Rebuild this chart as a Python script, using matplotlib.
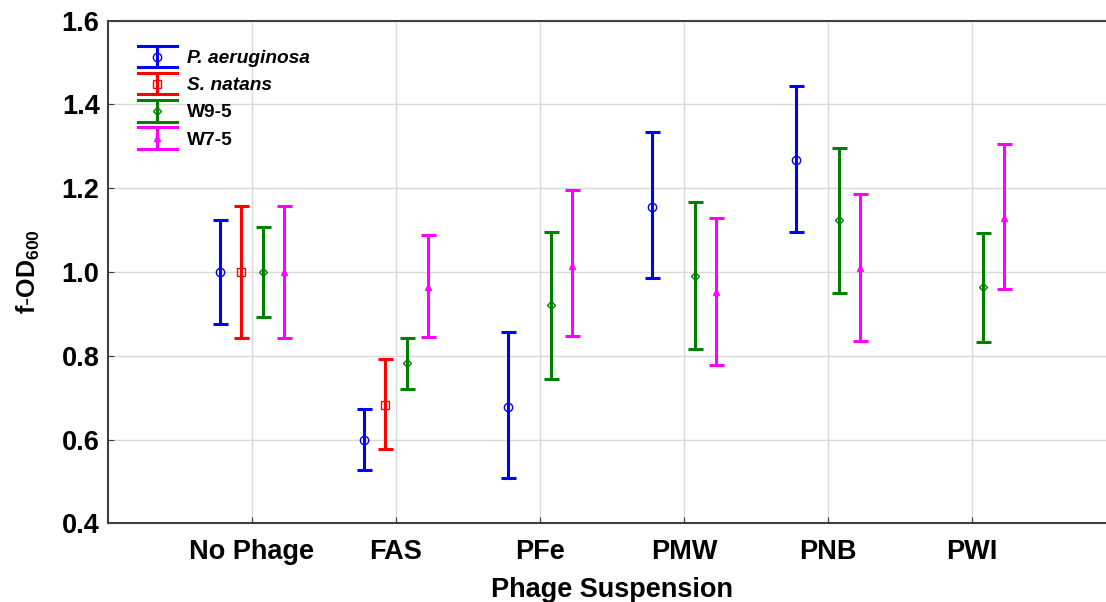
import numpy as np
import matplotlib
matplotlib.use("Agg")
import matplotlib.pyplot as plt
from matplotlib.lines import Line2D
from matplotlib.legend_handler import HandlerBase

plt.rcParams['font.family'] = ['Liberation Sans', 'DejaVu Sans']
plt.rcParams['mathtext.fontset'] = 'custom'
plt.rcParams['mathtext.rm'] = 'Liberation Sans'
plt.rcParams['mathtext.bf'] = 'Liberation Sans:bold'

# Kategori suspensi fag
categories = ["No Phage", "FAS", "PFe", "PMW", "PNB", "PWI"]

# Rata-rata f-OD600 dan batas bawah/atas tiap strain (None = tidak diukur)
pa_mean = [1.000, 0.599, 0.678, 1.156, 1.267, None]
pa_low = [0.876, 0.527, 0.507, 0.985, 1.095, None]
pa_high = [1.123, 0.672, 0.856, 1.333, 1.444, None]

sn_mean = [1.000, 0.682, None, None, None, None]
sn_low = [0.842, 0.577, None, None, None, None]
sn_high = [1.158, 0.792, None, None, None, None]

w95_mean = [1.000, 0.782, 0.922, 0.991, 1.123, 0.963]
w95_low = [0.892, 0.721, 0.745, 0.816, 0.950, 0.834]
w95_high = [1.108, 0.843, 1.095, 1.166, 1.297, 1.092]

w75_mean = [1.000, 0.965, 1.015, 0.953, 1.010, 1.129]
w75_low = [0.842, 0.845, 0.846, 0.778, 0.836, 0.959]
w75_high = [1.158, 1.089, 1.195, 1.128, 1.185, 1.305]

series = [
    ("P. aeruginosa", pa_mean, pa_low, pa_high, "#0000ff", "o", "italic"),
    ("S. natans", sn_mean, sn_low, sn_high, "#ff0000", "s", "italic"),
    ("W9-5", w95_mean, w95_low, w95_high, "#008000", "D", "normal"),
    ("W7-5", w75_mean, w75_low, w75_high, "#ff00ff", "^", "normal"),
]
offsets = [-0.225, -0.075, 0.075, 0.225]
msize = {"o": 6, "s": 6, "D": 4, "^": 5}


class ErrorbarHandle(HandlerBase):
    """Legenda berupa batang galat vertikal dengan tutup lebar."""

    def __init__(self, color, marker):
        super().__init__()
        self.color = color
        self.marker = marker

    def create_artists(self, legend, orig_handle, xdescent, ydescent,
                       width, height, fontsize, trans):
        cx = width / 2 - xdescent
        y0 = -ydescent - 0.12 * height
        y1 = -ydescent + 1.12 * height
        ym = (y0 + y1) / 2
        arts = [
            Line2D([cx, cx], [y0, y1], color=self.color, lw=2.2),
            Line2D([0, width], [y0, y0], color=self.color, lw=2.2),
            Line2D([0, width], [y1, y1], color=self.color, lw=2.2),
            Line2D([cx], [ym], marker=self.marker, color=self.color,
                   mfc="none", ms=msize[self.marker], mew=1, ls="none"),
        ]
        for a in arts:
            a.set_transform(trans)
        return arts


fig = plt.figure(figsize=(11.06, 6.02), dpi=100)
ax = fig.add_axes([0.0976, 0.1307, 0.9114, 0.835])

x = np.arange(1, len(categories) + 1)
proxies = []
handler_map = {}
for (name, mean, low, high, color, marker, style), off in zip(series, offsets):
    idx = [i for i, m in enumerate(mean) if m is not None]
    xs = x[idx] + off
    ys = np.array([mean[i] for i in idx])
    lo = ys - np.array([low[i] for i in idx])
    hi = np.array([high[i] for i in idx]) - ys
    ax.errorbar(xs, ys, yerr=[lo, hi], fmt="none", ecolor=color,
                elinewidth=2.2, capsize=5.4, capthick=2.2, zorder=3)
    ax.plot(xs, ys, ls="none", marker=marker, ms=msize[marker], mfc="none",
            mec=color, mew=1, zorder=4)
    p = Line2D([], [], color=color)
    proxies.append(p)
    handler_map[p] = ErrorbarHandle(color, marker)

ax.set_xlim(0, 7)
ax.set_ylim(0.4, 1.6)
ax.set_xticks(x)
ax.set_xticklabels(categories, fontsize=19.5, fontweight="bold")
ax.set_yticks(np.arange(0.4, 1.61, 0.2))
ax.set_yticklabels([f"{v:.1f}" for v in np.arange(0.4, 1.61, 0.2)],
                   fontsize=19.5, fontweight="bold")
ax.tick_params(axis="both", direction="in", length=4, color="#404040")
ax.tick_params(axis="y", pad=6)
ax.tick_params(axis="x", pad=11)
ax.grid(True, color="#d9d9d9", lw=1)
ax.set_axisbelow(True)
for s in ["left", "bottom", "top"]:
    ax.spines[s].set_color("#404040")
    ax.spines[s].set_linewidth(1.5)
ax.spines["right"].set_visible(False)

ax.set_xlabel("Phage Suspension", fontsize=19.5, fontweight="bold", labelpad=9)
ax.set_ylabel(r"$\mathbf{f\text{-}OD_{600}}$", fontsize=18, labelpad=14)

leg = ax.legend(proxies, [s[0] for s in series], handler_map=handler_map,
                loc="upper left", bbox_to_anchor=(0.013, 0.98), frameon=False,
                handlelength=2.0, handleheight=1.0, labelspacing=0.42,
                handletextpad=0.55, prop={"size": 13.8, "weight": "bold"})
for t, s in zip(leg.get_texts(), series):
    t.set_fontstyle(s[6])

fig.savefig("out.png", dpi=100)
